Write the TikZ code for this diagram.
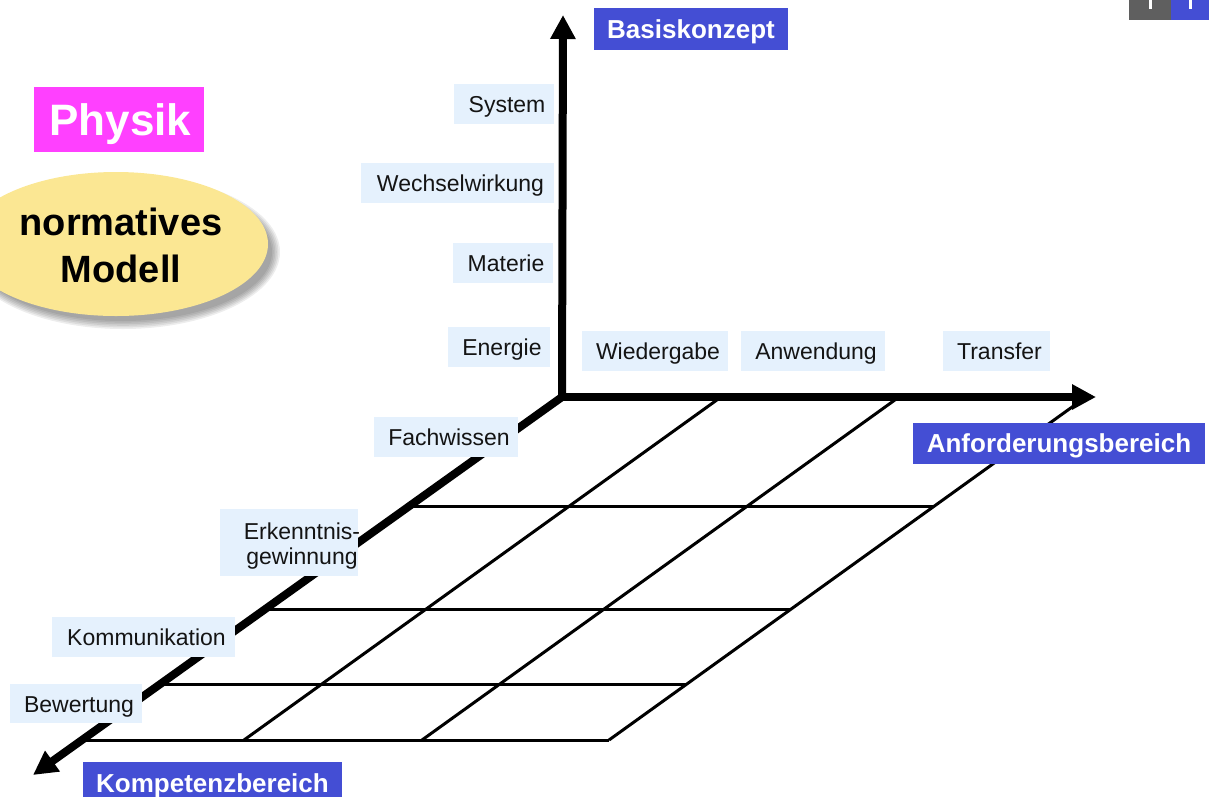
\documentclass[tikz,border=0pt]{standalone}
\usepackage{fontspec}
\setmainfont{Liberation Sans}
\usetikzlibrary{arrows.meta,calc}
\definecolor{lblbg}{RGB}{229,241,253}
\definecolor{hdblue}{RGB}{68,78,212}
\definecolor{physmag}{RGB}{255,64,255}
\definecolor{ovalyellow}{RGB}{251,231,147}
\definecolor{tabgray}{RGB}{95,95,95}
% box node given by its corners: style, name, x1, y1, x2, y2, text
\newcommand\labelbox[7]{%
  \node[#1, minimum width={(#5-#3)*1pt}, minimum height={(#6-#4)*1pt}]
    (#2) at ({(#3+#5)/2},{(#4+#6)/2}) {#7};}
\begin{document}
\begin{tikzpicture}[x=1pt,y=-1pt,
  lbl/.style={fill=lblbg, inner sep=0pt, text=black!92,
    text height=17pt, text depth=0pt,
    execute at begin node={\hspace*{6pt}},
    font=\fontsize{23}{25}\selectfont},
  head/.style={fill=hdblue, inner sep=0pt, text=white,
    text height=18.6pt, text depth=0pt,
    font=\fontsize{26}{30}\selectfont\bfseries},
  axis/.style={line width=8pt, -{Triangle[length=24pt,width=24pt]}},
  gridline/.style={line width=3pt},
]
\useasboundingbox (0,0) rectangle (1209,796);
\clip (0,0) rectangle (1209,796);

% corner tabs, top right
\fill[tabgray] (1129,0) rectangle (1171,20);
\fill[hdblue] (1171,0) rectangle (1209,20);
\fill[white] (1149,0) rectangle (1152,9);
\fill[white] (1189,0) rectangle (1192,9);

% title box
\labelbox{fill=physmag, inner sep=0pt, text=white, text height=32pt, text depth=0pt,
  font=\fontsize{44}{48}\selectfont\bfseries}{physik}{34}{87}{204}{152}{\hspace*{3pt}Physik}

% oval with soft shadow
\foreach \i in {0,...,5}
  \fill[black, opacity=0.07] (123,252) ellipse ({149+1.6*\i} and {69+1.6*\i});
\fill[ovalyellow] (116,244) ellipse (152 and 72);
\node[align=center, font=\fontsize{38}{47}\selectfont\bfseries, inner sep=0pt]
  (modell) at (121,245) {normatives\\Modell};

% floor grid
\draw[gridline] (410,506) -- (934,506);
\draw[gridline] (267,609) -- (791,609);
\draw[gridline] (163,684) -- (687,684);
\draw[gridline] (85,740) -- (609,740);
\draw[gridline] (721,397) -- (244,740);
\draw[gridline] (899,397) -- (422,740);
\draw[gridline] (1086,397) -- (609,740);

% axes
\coordinate (O) at (562,397);
\coordinate (ytip) at (563,15);
\coordinate (xtip) at (1096,397);
\coordinate (ztip) at (33,775);
\draw[axis] (O) -- (ytip);
\draw[axis] ($(O)+(-4,0)$) -- (xtip);
\draw[axis] (O) -- (ztip);

% axis titles
\labelbox{head}{basis}{594}{8}{788}{50}{Basiskonzept}
\labelbox{head}{anford}{913}{423}{1205}{464}{Anforderungsbereich}
\labelbox{head}{kompetenz}{83}{762}{342}{804}{Kompetenzbereich}

% vertical axis: Basiskonzepte
\labelbox{lbl}{sys}{454}{84}{554}{124}{System}
\labelbox{lbl}{wech}{361}{163}{554}{203}{Wechselwirkung}
\labelbox{lbl}{mat}{453}{243}{553}{283}{Materie}
\labelbox{lbl}{ener}{448}{327}{550}{367}{Energie}

% horizontal axis: Anforderungsbereiche
\labelbox{lbl}{wied}{582}{331}{728}{371}{Wiedergabe}
\labelbox{lbl}{anw}{741}{331}{885}{371}{Anwendung}
\labelbox{lbl}{trans}{943}{331}{1050}{371}{Transfer}

% depth axis: Kompetenzbereiche
\labelbox{lbl}{fach}{374}{417}{518}{457}{Fachwissen}
\fill[lblbg] (220,509) rectangle (358,576);
\node[align=center, inner sep=0pt, text=black!92, font=\fontsize{23}{25}\selectfont]
  (erk) at (302,546) {Erkenntnis-\\gewinnung};
\labelbox{lbl}{komm}{52}{617}{235}{657}{Kommunikation}
\labelbox{lbl}{bew}{10}{684}{142}{723}{Bewertung}
\end{tikzpicture}
\end{document}
